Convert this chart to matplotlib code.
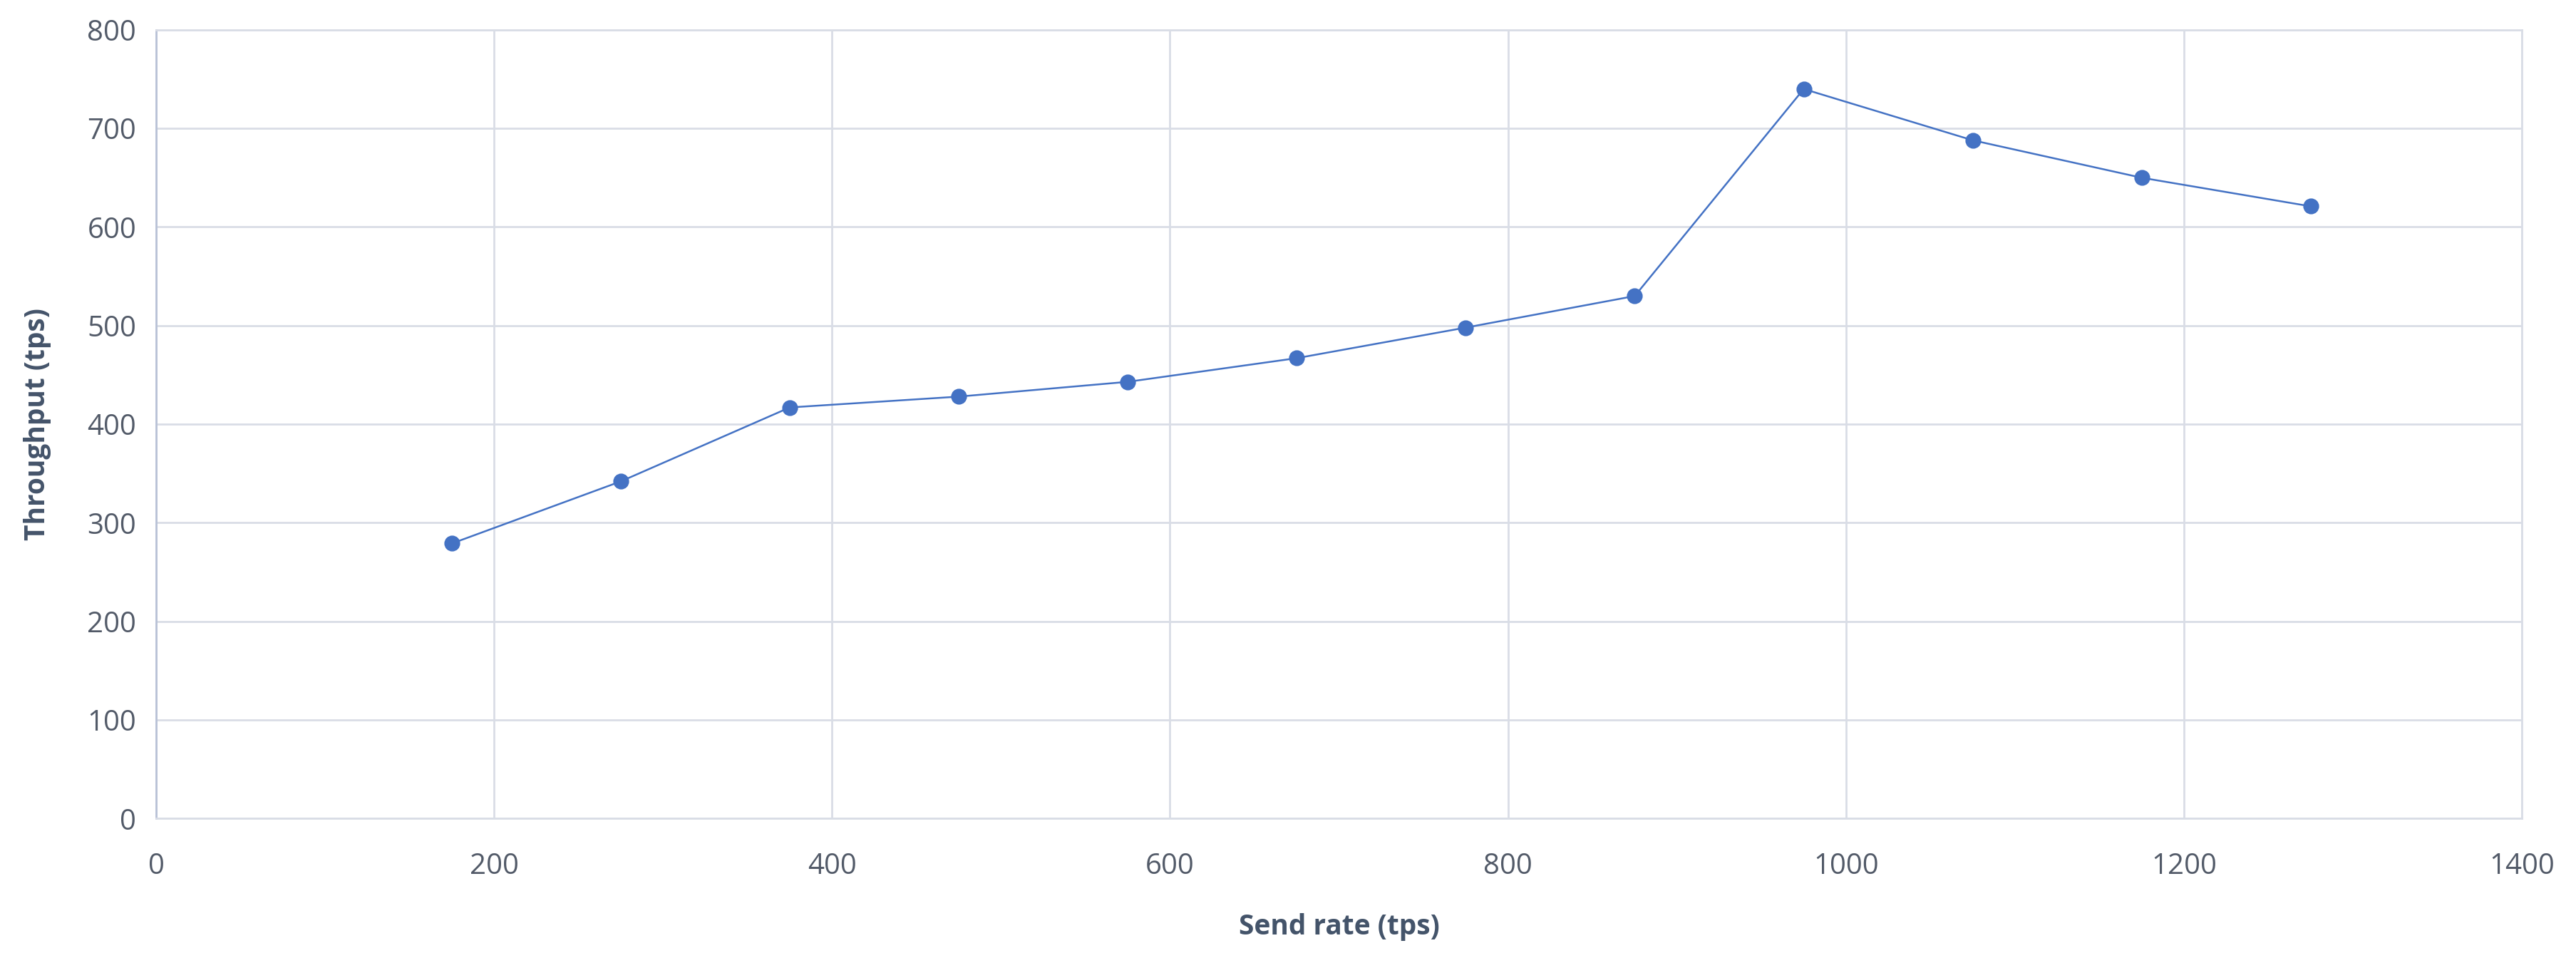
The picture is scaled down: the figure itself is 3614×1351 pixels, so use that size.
import matplotlib.pyplot as plt

# send rate vs throughput
send_rate = [175, 275, 375, 475, 575, 675, 775, 875, 975, 1075, 1175, 1275]
throughput = [279, 342, 417, 428, 443, 467, 498, 530, 740, 688, 650, 621]

x_ticks = [0, 200, 400, 600, 800, 1000, 1200, 1400]
y_ticks = [0, 100, 200, 300, 400, 500, 600, 700, 800]

plt.rcParams['font.family'] = ['Open Sans', 'DejaVu Sans']

fig, ax = plt.subplots(figsize=(18.07, 6.755), dpi=200)
fig.subplots_adjust(left=0.0606, right=0.979, top=0.969, bottom=0.150)

ax.plot(send_rate, throughput, color='#4472C4', linewidth=0.9,
        marker='o', markersize=7, markerfacecolor='#4472C4', markeredgecolor='#4472C4')

ax.set_xlim(0, 1400)
ax.set_ylim(0, 800)
ax.set_xticks(x_ticks)
ax.set_yticks(y_ticks)
ax.grid(True, color='#d9dde6', linewidth=1.0)
ax.set_axisbelow(True)

for side in ['top', 'right', 'left', 'bottom']:
    ax.spines[side].set_color('#d9dde6')
    ax.spines[side].set_linewidth(1.0)
ax.spines['left'].set_color('#b8c1d6')

ax.tick_params(length=0, labelsize=14.5, labelcolor='#525a68')
ax.tick_params(axis='x', pad=17)
ax.tick_params(axis='y', pad=10)

ax.set_xlabel('Send rate (tps)', fontsize=14, fontweight='bold', color='#44546A', labelpad=16)
ax.set_ylabel('Throughput (tps)', fontsize=14, fontweight='bold', color='#44546A', labelpad=18)

fig.savefig('out.png', dpi=200, facecolor='white')
